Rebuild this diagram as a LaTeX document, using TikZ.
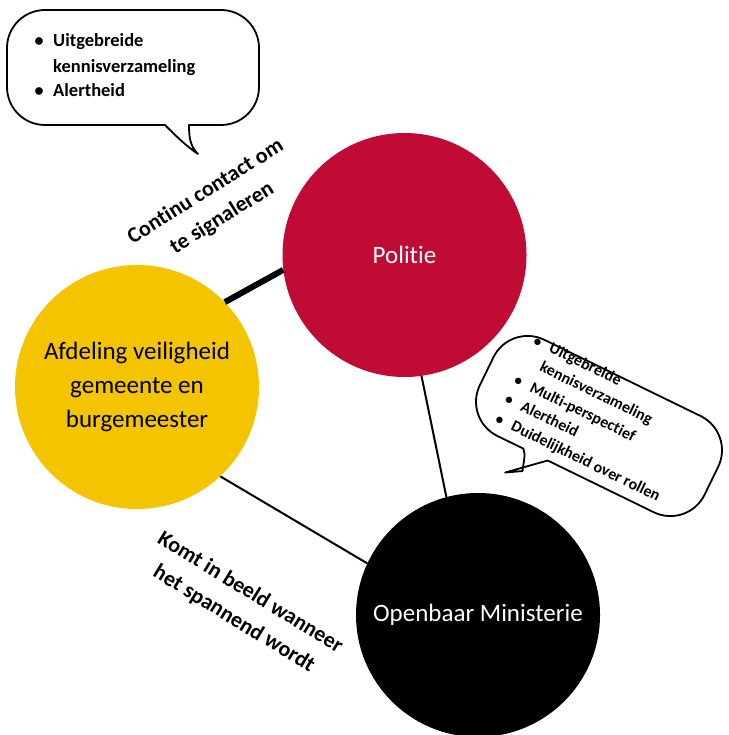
\documentclass[tikz,border=0pt]{standalone}
\usepackage{fontspec}
\setmainfont{Carlito}[Ligatures=CommonOff]
\definecolor{politiered}{RGB}{192,12,52}
\definecolor{gemyellow}{RGB}{245,196,0}
\begin{document}
\begin{tikzpicture}[x=1pt,y=-1pt,
  party/.style={circle, inner sep=0pt, minimum size=244pt, align=center,
    font=\fontsize{25}{34}\selectfont},
  link/.style={line width=2pt, black},
  strong link/.style={line width=6pt, black},
  edgelabel/.style={align=center, inner sep=0pt,
    font=\bfseries\fontsize{22}{31}\selectfont},
  bubble/.style={draw=black, line width=1.8pt, fill=white, line join=round},
  bubbletext/.style={anchor=base west, inner sep=0pt,
    font=\bfseries\fontsize{18.5}{25}\selectfont},
  bulletmark/.style={anchor=base, inner sep=0pt,
    font=\bfseries\fontsize{18}{25}\selectfont},
  smalltext/.style={bubbletext, font=\bfseries\fontsize{16}{21}\selectfont},
  smallbullet/.style={bulletmark, font=\bfseries\fontsize{15}{21}\selectfont},
]
\useasboundingbox[fill=white] (0,0) rectangle (728,735);

% the three parties
\node[party, fill=politiered, text=white] (pol) at (404.5,255) {Politie};
\node[party, fill=gemyellow, text=black] (afd) at (137,387)
  {Afdeling veiligheid\\gemeente en\\burgemeester};
\node[party, fill=black, text=white] (om) at (478,615) {Openbaar Ministerie};

% relations
\draw[strong link] (afd.44) -- (pol.187);
\draw[link] (pol.278) -- (om.105);
\draw[link] (afd.313) -- (om.155);

% relation labels
\node[edgelabel, rotate=32] (contactlabel) at (214,205)
  {Continu contact om\\te signaleren};
\node[edgelabel, rotate=-31.5] (escalationlabel) at (242,606)
  {Komt in beeld wanneer\\het spannend wordt};

% speech bubble of the municipality link
\draw[bubble] (45,10) -- (221,10) .. controls (242,10) and (259,27) .. (259,48)
  -- (259,87) .. controls (259,108) and (242,125) .. (221,125)
  -- (189,125) .. controls (189,137) and (190,146) .. (198,154)
  .. controls (186,146) and (175,135) .. (165,125)
  -- (45,125) .. controls (24,125) and (7,108) .. (7,87)
  -- (7,48) .. controls (7,27) and (24,10) .. (45,10) -- cycle;
\node[bulletmark] (b1a) at (39,47) {\textbullet};
\node[bubbletext] (t1a) at (53,47) {Uitgebreide};
\node[bubbletext] (t1b) at (53,72.5) {kennisverzameling};
\node[bulletmark] (b1c) at (39,97) {\textbullet};
\node[bubbletext] (t1c) at (53,97) {Alertheid};

% speech bubble of the police link
\begin{scope}[shift={(599,426)}, rotate=-26, transform shape]
\draw[bubble] (-87,-53.5) -- (87,-53.5) .. controls (108,-53.5) and (125,-36.5) .. (125,-15.5)
  -- (125,15.5) .. controls (125,36.5) and (108,53.5) .. (87,53.5)
  -- (-31,53.5) -- (-64,83) -- (-49,74)
  .. controls (-52,66) and (-53,58) .. (-58,53.5)
  -- (-87,53.5) .. controls (-108,53.5) and (-125,36.5) .. (-125,15.5)
  -- (-125,-15.5) .. controls (-125,-36.5) and (-108,-53.5) .. (-87,-53.5) -- cycle;
\node[smallbullet] (b2a) at (-92,-44.5) {\textbullet};
\node[smalltext] (t2a) at (-78.5,-44.5) {Uitgebreide};
\node[smalltext] (t2b) at (-78.5,-23.5) {kennisverzameling};
\node[smallbullet] (b2c) at (-92,-0.5) {\textbullet};
\node[smalltext] (t2c) at (-78.5,-0.5) {Multi-perspectief};
\node[smallbullet] (b2d) at (-92,20.5) {\textbullet};
\node[smalltext] (t2d) at (-78.5,20.5) {Alertheid};
\node[smallbullet] (b2e) at (-92,42.5) {\textbullet};
\node[smalltext] (t2e) at (-78.5,42.5) {Duidelijkheid over rollen};
\end{scope}
\end{tikzpicture}
\end{document}
